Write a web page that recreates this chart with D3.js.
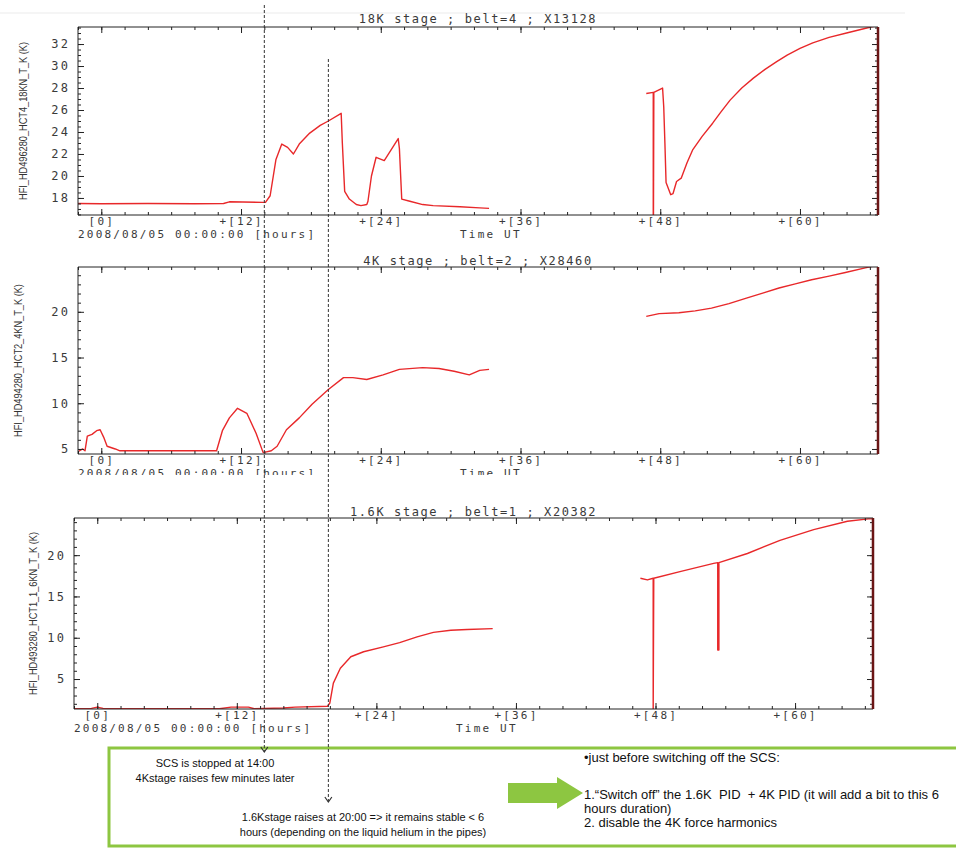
<!DOCTYPE html>
<html>
<head>
<meta charset="utf-8">
<script src="https://cdn.jsdelivr.net/npm/d3@7"></script>
<style>
body { margin: 0; background: #fff; }
svg { display: block; }
.mono { font-family: "DejaVu Sans Mono", monospace; font-size: 12px; fill: #3a3a3a; letter-spacing: 1.6px; }
.tick-x { font-size: 11px; letter-spacing: 2.2px; }
.ylab { font-family: "Liberation Sans", sans-serif; font-size: 11.5px; fill: #333; }
.note { font-family: "Liberation Sans", sans-serif; fill: #111; }
</style>
</head>
<body>
<svg id="chart" width="956" height="849"></svg>
<script>
// ---- data (hours after 2008/08/05 00:00, kelvin) ----
const hours18k = [-2, 0, 4, 8, 10.5, 11, 13.9, 14.1, 14.5, 15.0, 15.5, 16.0, 16.5, 17.0, 17.9, 18.8, 19.5, 20.6, 20.7, 20.9, 21.3, 21.9, 22.3, 22.8, 22.9, 23.2, 23.6, 24.3, 25.5, 25.6, 25.8, 26.5, 27.6, 28.5, 30.8, 32.5, 33.3,
  40,
  46.8, 47.4, 47.4, 47.45, 48.2, 48.3, 48.4, 48.5, 48.9, 49.1, 49.4, 49.8, 50.3, 50.8, 51.6, 52.5, 53.2, 54.0, 55.0, 56.0, 57.0, 58.0, 58.9, 60.0, 61.1, 62.5, 64.0, 65.3, 66.7];
const temp18k = [17.5, 17.48, 17.5, 17.47, 17.5, 17.65, 17.6, 17.6, 18.2, 21.5, 22.9, 22.6, 22.0, 22.9, 23.9, 24.6, 25.0, 25.7, 23.0, 18.6, 17.9, 17.4, 17.3, 17.4, 17.7, 20.0, 21.7, 21.4, 23.4, 22.5, 17.9, 17.7, 17.4, 17.3, 17.2, 17.1, 17.05,
  null,
  27.5, 27.6, 10, 27.6, 28.0, 26.3, 23.0, 19.4, 18.3, 18.4, 19.5, 19.8, 21.2, 22.4, 23.6, 24.8, 25.8, 26.9, 28.0, 28.9, 29.7, 30.4, 31.0, 31.6, 32.1, 32.6, 33.0, 33.35, 33.7];

const hours4k = [-2, -1.6, -1.4, -1.2, -0.8, -0.4, -0.1, 0.2, 0.5, 1.2, 1.6, 5, 9.9, 10.4, 11.0, 11.7, 12.5, 13.3, 13.9, 14.6, 15.1, 15.9, 17.0, 18.1, 19.5, 20.8, 21.6, 22.8, 24.2, 25.6, 27.6, 29.0, 30.3, 31.6, 32.5, 33.3,
  40,
  46.8, 47.9, 49.6, 51.0, 52.4, 53.9, 55.4, 56.8, 58.2, 59.6, 61.0, 62.5, 63.9, 65.6, 66.7];
const temp4k = [4.7, 5.0, 4.8, 6.4, 6.6, 7.0, 7.1, 6.3, 5.3, 5.0, 4.8, 4.8, 4.8, 7.0, 8.4, 9.45, 8.9, 6.7, 4.6, 4.8, 5.3, 7.1, 8.4, 9.9, 11.5, 12.8, 12.8, 12.6, 13.1, 13.7, 13.9, 13.8, 13.5, 13.1, 13.6, 13.7,
  null,
  19.5, 19.8, 19.9, 20.1, 20.4, 20.9, 21.5, 22.05, 22.6, 23.05, 23.5, 23.9, 24.3, 24.8, 25.1];

const hours16k = [-2, -0.5, 0, 0.5, 10.5, 11.5, 13, 13.5, 16, 17, 19.8, 20.0, 20.3, 20.9, 21.8, 22.9, 24.6, 26.0, 27.5, 28.9, 30.4, 31.8, 34.0,
  40,
  46.7, 47.3, 47.8, 47.8, 47.85, 50.1, 53.0, 53.35, 53.35, 53.45, 53.45, 55.9, 58.7, 61.6, 64.5, 66.3, 66.7];
const temp16k = [1.4, 1.45, 1.6, 1.45, 1.4, 1.6, 1.6, 1.4, 1.5, 1.6, 1.7, 2.1, 4.5, 6.3, 7.7, 8.3, 8.9, 9.4, 10.1, 10.65, 10.9, 11.0, 11.1,
  null,
  17.2, 17.0, 17.2, 1.0, 17.2, 18.0, 19.0, 19.1, 8.5, 8.5, 19.1, 20.2, 21.8, 23.1, 24.1, 24.4, 24.4];

const xMajor = [0, 12, 24, 36, 48, 60];
const xMinor = d3.range(-2, 67, 2);
const titles = ["18K stage ; belt=4 ; X13128", "4K stage ; belt=2 ; X28460", "1.6K stage ; belt=1 ; X20382"];
const yLabels = ["HFI_HD496280_HCT4_18KN_T_K (K)", "HFI_HD494280_HCT2_4KN_T_K (K)", "HFI_HD493280_HCT1_1_6KN_T_K (K)"];
const yDomains = [[16.45, 33.55], [4.45, 24.9], [1.37, 24.5]];
const yMajorStep = [2, 5, 5];
const yMinorStep = [0.5, 1, 1];
const eventHours = [14, 19.5];   // SCS stop, 1.6K rise

// ---- layout ----
const boxes = [
  {l: 78, r: 878, t: 27, b: 215, titleY: 23, labX: 23, clipB: 245},
  {l: 78, r: 878, t: 267, b: 454, titleY: 265, labX: 18, clipB: 475},
  {l: 74, r: 873, t: 518, b: 709, titleY: 516, labX: 33, clipB: 740}
];
const series = [[hours18k, temp18k], [hours4k, temp4k], [hours16k, temp16k]];

const svg = d3.select("#chart");
const defs = svg.append("defs");

// faint rule on top
svg.append("line").attr("x1", 0).attr("x2", 905).attr("y1", 13).attr("y2", 13)
  .attr("stroke", "#ebebeb").attr("stroke-width", 1);

const xScales = [];

function drawPanel(i) {
  const b = boxes[i];
  const x = d3.scaleLinear().domain([-2, 66.7]).range([b.l, b.r]);
  const y = d3.scaleLinear().domain(yDomains[i]).range([b.b, b.t]);
  xScales.push(x);

  defs.append("clipPath").attr("id", "plot" + i).append("rect")
    .attr("x", b.l).attr("y", b.t).attr("width", b.r - b.l).attr("height", b.b - b.t);
  defs.append("clipPath").attr("id", "panel" + i).append("rect")
    .attr("x", 0).attr("y", b.t - 20).attr("width", 956).attr("height", b.clipB - b.t + 20);

  const g = svg.append("g").attr("clip-path", "url(#panel" + i + ")");

  // data line
  const pts = series[i][0].map((h, k) => ({h: h, t: series[i][1][k]}));
  const line = d3.line().defined(d => d.t !== null).x(d => x(d.h)).y(d => y(d.t));
  g.append("path").datum(pts)
    .attr("clip-path", "url(#plot" + i + ")")
    .attr("d", line).attr("fill", "none")
    .attr("stroke", "#e8282a").attr("stroke-width", 1.4).attr("stroke-linejoin", "round");

  const yMaj = d3.range(Math.ceil(yDomains[i][0] / yMajorStep[i]) * yMajorStep[i], yDomains[i][1], yMajorStep[i]);
  const yMin = d3.range(Math.ceil(yDomains[i][0] / yMinorStep[i]) * yMinorStep[i], yDomains[i][1], yMinorStep[i]);

  function ax(gen, tr, vals, size, fmt) {
    const a = gen.tickValues(vals).tickSize(size).tickSizeOuter(0).tickPadding(2.5);
    if (fmt) a.tickFormat(fmt); else a.tickFormat("");
    const s = g.append("g").attr("transform", tr).call(a);
    s.select(".domain").remove();
    s.selectAll("line").attr("stroke", "#222");
    s.selectAll("text").attr("class", "mono").attr("fill", null);
    return s;
  }
  const fmtX = d => d === 0 ? "[0]" : "+[" + d + "]";
  // bottom / top
  ax(d3.axisBottom(x), `translate(0,${b.b})`, xMinor, -3);
  ax(d3.axisBottom(x), `translate(0,${b.b})`, xMajor, -6, fmtX)
    .selectAll("text").attr("class", "mono tick-x");
  ax(d3.axisTop(x), `translate(0,${b.t})`, xMinor, -3);
  ax(d3.axisTop(x), `translate(0,${b.t})`, xMajor, -6);
  // left / right
  ax(d3.axisLeft(y), `translate(${b.l},0)`, yMin, -3);
  const ly = ax(d3.axisLeft(y), `translate(${b.l},0)`, yMaj, -6, d => d).attr("font-size", null);
  ly.selectAll("text").attr("dx", "-5").style("letter-spacing", "2.4px");
  ax(d3.axisRight(y), `translate(${b.r},0)`, yMin, -3);
  ax(d3.axisRight(y), `translate(${b.r},0)`, yMaj, -6);

  // frame
  g.append("path")
    .attr("d", `M${b.r},${b.t}H${b.l}V${b.b}H${b.r}`)
    .attr("fill", "none").attr("stroke", "#222").attr("stroke-width", 1);
  g.append("line").attr("x1", b.r).attr("x2", b.r).attr("y1", b.t).attr("y2", b.b)
    .attr("stroke", "#6b1515").attr("stroke-width", 2.5);

  // texts
  g.append("text").attr("class", "mono").attr("x", (b.l + b.r) / 2).attr("y", b.titleY)
    .attr("text-anchor", "middle").text(titles[i]);
  g.append("text").attr("class", "mono tick-x").attr("x", b.l).attr("y", b.b + 23)
    .text("2008/08/05 00:00:00 [hours]");
  g.append("text").attr("class", "mono tick-x").attr("x", b.l + 382).attr("y", b.b + 23)
    .text("Time UT");
  g.append("text").attr("class", "ylab")
    .attr("transform", `translate(${b.labX},${(b.t + b.b) / 2}) rotate(-90) scale(0.8,1)`)
    .attr("text-anchor", "middle").attr("dy", "0.35em").text(yLabels[i]);
}

[0, 1, 2].forEach(drawPanel);

// ---- annotation box ----
const green = "#8dc641";
svg.append("rect").attr("x", 109).attr("y", 748).attr("width", 870).attr("height", 98)
  .attr("fill", "none").attr("stroke", green).attr("stroke-width", 3);

svg.append("path")
  .attr("d", "M508,783H557V777L583,793L557,809V803H508Z")
  .attr("fill", green);

// event lines (dashed, with small arrowheads)
const evEnds = [[5, 752], [59, 802]];
eventHours.forEach((h, k) => {
  const xx = xScales[0](h);
  svg.append("line").attr("x1", xx).attr("x2", xx).attr("y1", evEnds[k][0]).attr("y2", evEnds[k][1])
    .attr("stroke", "#333").attr("stroke-width", 1).attr("stroke-dasharray", "3,2");
  svg.append("path")
    .attr("d", `M${xx - 3.5},${evEnds[k][1] - 5}L${xx},${evEnds[k][1]}L${xx + 3.5},${evEnds[k][1] - 5}`)
    .attr("fill", "none").attr("stroke", "#333").attr("stroke-width", 1.2);
});

const notesLeft = [
  {x: 215, y: 767, t: "SCS is stopped at 14:00"},
  {x: 215, y: 782, t: "4Kstage raises few minutes later"},
  {x: 363, y: 821, t: "1.6Kstage raises at 20:00 => it remains stable < 6"},
  {x: 363, y: 836, t: "hours (depending on the liquid helium in the pipes)"}
];
svg.selectAll("text.nl").data(notesLeft).enter().append("text")
  .attr("class", "note nl").attr("x", d => d.x).attr("y", d => d.y)
  .attr("text-anchor", "middle").attr("font-size", 11).text(d => d.t);

const notesRight = [
  {y: 762, t: "\u2022just before switching off the SCS:"},
  {y: 799, t: "1.\u201cSwitch off\u201d the 1.6K  PID  + 4K PID (it will add a bit to this 6"},
  {y: 813, t: "hours duration)"},
  {y: 827, t: "2. disable the 4K force harmonics"}
];
svg.selectAll("text.nr").data(notesRight).enter().append("text")
  .attr("class", "note nr").attr("x", 584).attr("y", d => d.y)
  .attr("font-size", 13).style("white-space", "pre").text(d => d.t);
</script>
</body>
</html>
